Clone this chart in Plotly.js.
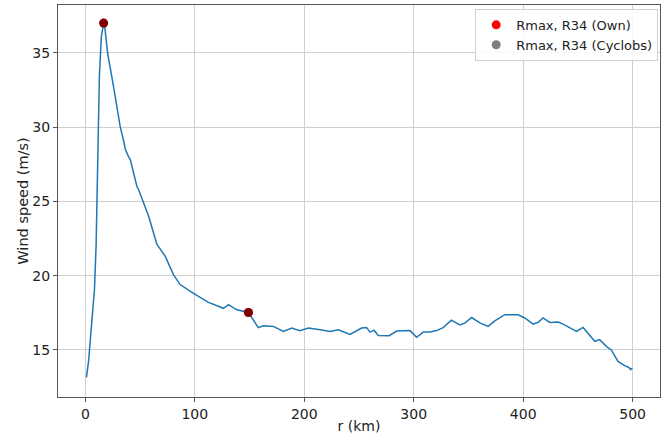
<!DOCTYPE html>
<html>
<head>
<meta charset="utf-8">
<script src="https://cdn.plot.ly/plotly-3.0.1.min.js"></script>
<style>
  html, body { margin: 0; padding: 0; background: #ffffff; }
  #chart { width: 672px; height: 436px; }
</style>
</head>
<body>
<div id="chart"></div>
<script>
// Radial wind profile: distance from centre (km) and wind speed (m/s)
const radiusKm = [
  1, 3, 5.1, 6.6, 8.3, 9.8, 10.7, 11.3, 12.8, 14.6, 16.7, 17.5,
  20.3, 25.8, 31.9, 34.9, 36.5, 39.5, 41.1, 47.1, 48.6, 57.8, 65.4, 73.0,
  80.6, 86.6, 98.8, 112.5, 126.2, 130.7, 138.4, 149, 158, 162.7, 171.8, 180.9,
  188.6, 195.7, 203.8, 214.5, 223.6, 231.1, 241.7, 252.4, 256.9, 260.1, 263.7, 267.6,
  277.5, 284.4, 296.6, 302.6, 308.8, 315, 320.9, 326.9, 334.4, 342.2, 346.7, 352.9,
  360.4, 367.9, 374.1, 383.2, 395.4, 401.5, 409.1, 413.6, 418.2, 424.3, 432.0, 436.5,
  442.5, 448.7, 454.7, 460.7, 465.4, 469.9, 476, 480.5, 486.6, 492.7, 496.6, 498.2, 499.7
];
const windSpeed = [
  13.15, 14.3, 16.2, 17.5, 19.05, 22.0, 26.4, 28.9, 33.4, 36.1, 37.0, 36.9,
  35.0, 32.7, 30.0, 29.1, 28.5, 28.0, 27.8, 26.0, 25.8, 24.0, 22.1, 21.3,
  20.05, 19.4, 18.8, 18.2, 17.8, 18.05, 17.7, 17.52, 16.5, 16.63, 16.58, 16.24,
  16.47, 16.29, 16.47, 16.36, 16.24, 16.36, 16.04, 16.47, 16.51, 16.2, 16.33, 15.97,
  15.96, 16.27, 16.3, 15.85, 16.2, 16.2, 16.3, 16.5, 17.0, 16.68, 16.8, 17.18,
  16.82, 16.58, 16.96, 17.37, 17.37, 17.15, 16.74, 16.85, 17.15, 16.85, 16.88, 16.74,
  16.47, 16.24, 16.51, 16.02, 15.58, 15.69, 15.24, 15.0, 14.23, 13.94, 13.82, 13.67, 13.78
];

// Radius of maximum wind and 34-kt radius, own retrieval and Cyclobs
const ownRadii = [16.7, 149];
const ownSpeeds = [37.0, 17.52];
const cyclobsRadii = [16.7, 149];
const cyclobsSpeeds = [37.0, 17.52];

const fontFamily = '"DejaVu Sans", Verdana, sans-serif';
const textColor = '#222222';

const traces = [
  {
    x: radiusKm, y: windSpeed,
    type: 'scatter', mode: 'lines',
    line: { color: '#1f77b4', width: 1.5 },
    showlegend: false, hoverinfo: 'skip'
  },
  {
    x: ownRadii, y: ownSpeeds,
    type: 'scatter', mode: 'markers',
    name: 'Rmax, R34 (Own)',
    marker: { color: '#ff0000', size: 9 }
  },
  {
    x: cyclobsRadii, y: cyclobsSpeeds,
    type: 'scatter', mode: 'markers',
    name: 'Rmax, R34 (Cyclobs)',
    marker: { color: 'rgba(0,0,0,0.5)', size: 9 }
  }
];

const axisCommon = {
  showgrid: true, gridcolor: '#cfcfcf', gridwidth: 1,
  zeroline: false,
  showline: true, linecolor: '#555555', linewidth: 1, mirror: true,
  ticks: 'outside', ticklen: 4, tickcolor: '#555555',
  tickfont: { family: fontFamily, size: 14, color: textColor }
};

const layout = {
  width: 672, height: 436,
  margin: { l: 58, r: 12, t: 5, b: 39 },
  paper_bgcolor: '#ffffff', plot_bgcolor: '#ffffff',
  font: { family: fontFamily, size: 14, color: textColor },
  xaxis: Object.assign({}, axisCommon, {
    range: [-25, 525],
    tickvals: [0, 100, 200, 300, 400, 500],
    title: { text: 'r (km)', font: { family: fontFamily, size: 14, color: textColor }, standoff: 0 }
  }),
  yaxis: Object.assign({}, axisCommon, {
    range: [11.83, 38.22],
    tickvals: [15, 20, 25, 30, 35],
    title: { text: 'Wind speed (m/s)', font: { family: fontFamily, size: 14.5, color: textColor }, standoff: 0 }
  }),
  legend: {
    x: 0.997, y: 0.99, xanchor: 'right', yanchor: 'top',
    bgcolor: 'rgba(255,255,255,0.85)', bordercolor: '#d0d0d0', borderwidth: 1,
    font: { family: fontFamily, size: 13, color: textColor },
    itemwidth: 30
  },
  showlegend: true
};

Plotly.newPlot('chart', traces, layout, { displayModeBar: false, staticPlot: true });
</script>
</body>
</html>
